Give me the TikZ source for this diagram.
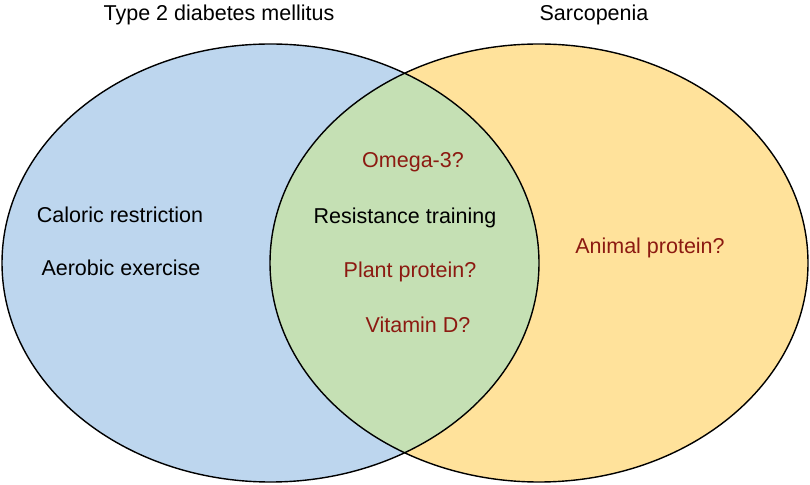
\documentclass[tikz,border=0pt]{standalone}
\usepackage{fontspec}
\setmainfont{Liberation Sans}
\usepackage{tikz}
\usetikzlibrary{positioning}

\definecolor{dmblue}{RGB}{189,214,238}
\definecolor{sarcyellow}{RGB}{255,226,155}
\definecolor{bothgreen}{RGB}{197,224,180}
\definecolor{qred}{RGB}{140,26,17}

\begin{document}
\begin{tikzpicture}[x=1pt, y=1pt,
    lbl/.style={anchor=base, inner sep=0pt, font=\fontsize{21.5}{26}\selectfont},
    query/.style={lbl, text=qred}]
    \useasboundingbox (0,0) rectangle (810,484);

    % circles
    \fill[dmblue] (270.5,221) ellipse [x radius=268.5, y radius=219];
    \fill[sarcyellow] (539,221) ellipse [x radius=269, y radius=219];
    \begin{scope}
        \clip (270.5,221) ellipse [x radius=268.5, y radius=219];
        \fill[bothgreen] (539,221) ellipse [x radius=269, y radius=219];
    \end{scope}
    \draw[line width=1.4pt] (270.5,221) ellipse [x radius=268.5, y radius=219];
    \draw[line width=1.4pt] (539,221) ellipse [x radius=269, y radius=219];

    % titles
    \node[lbl] (t2dm) at (219,463) {Type 2 diabetes mellitus};
    \node[lbl] (sarco) at (594,463) {Sarcopenia};

    % left only
    \node[lbl] (caloric) at (120,261) {Caloric restriction};
    \node[lbl] (aerobic) at (121,208) {Aerobic exercise};

    % overlap
    \node[query] (omega) at (413,316) {Omega-3?};
    \node[lbl] (resist) at (405,260) {Resistance training};
    \node[query] (plant) at (410,206) {Plant protein?};
    \node[query] (vitd) at (418,151) {Vitamin D?};

    % right only
    \node[query] (animal) at (650,230) {Animal protein?};
\end{tikzpicture}
\end{document}
